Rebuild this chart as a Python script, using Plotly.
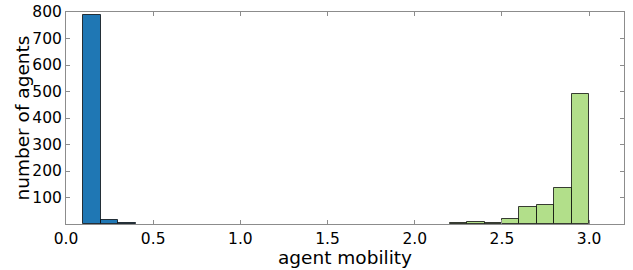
import plotly.graph_objects as go

# bin left edges and counts
blue_left = [0.1, 0.2, 0.3]
blue_counts = [787, 14, 3]
green_left = [2.2, 2.3, 2.4, 2.5, 2.6, 2.7, 2.8, 2.9]
green_counts = [4, 8, 5, 20, 63, 72, 135, 492]
bin_width = 0.1
x_ticks = [0.0, 0.5, 1.0, 1.5, 2.0, 2.5, 3.0]
y_ticks = [100, 200, 300, 400, 500, 600, 700, 800]
x_title = "agent mobility"
y_title = "number of agents"

fig = go.Figure()
fig.add_trace(go.Bar(
    x=[l + bin_width / 2 for l in blue_left], y=blue_counts, width=bin_width,
    marker=dict(color="#1f77b4", line=dict(color="rgba(0,0,0,0.75)", width=1)),
))
fig.add_trace(go.Bar(
    x=[l + bin_width / 2 for l in green_left], y=green_counts, width=bin_width,
    marker=dict(color="#b2df8a", line=dict(color="rgba(0,0,0,0.75)", width=1)),
))

font = "DejaVu Sans"
fig.update_layout(
    width=633, height=270,
    margin=dict(l=65.5, r=9, t=12, b=45.5, autoexpand=False),
    paper_bgcolor="white", plot_bgcolor="white",
    showlegend=False, bargap=0,
    font=dict(family=font, size=15.5, color="black"),
    annotations=[
        dict(text=x_title, xref="paper", yref="paper", x=0.5, y=-0.158,
             xanchor="center", yanchor="middle", showarrow=False, borderpad=0,
             font=dict(family=font, size=18.5, color="black")),
        dict(text=y_title, xref="paper", yref="paper", x=-0.078, y=0.5,
             xanchor="center", yanchor="middle", textangle=-90, showarrow=False,
             borderpad=0, font=dict(family=font, size=18.5, color="black")),
    ],
)
axis_common = dict(
    showline=True, linecolor="#8c8c8c", linewidth=1, mirror="allticks",
    ticks="inside", ticklen=4, tickcolor="#8c8c8c", showgrid=False, zeroline=False,
    tickfont=dict(family=font, size=15.5, color="black"), automargin=False,
    ticklabeloverflow="allow",
)
fig.update_xaxes(range=[0, 3.2], tickvals=x_ticks, tickformat=".1f", **axis_common)
fig.update_yaxes(range=[0, 800], tickvals=y_ticks, **axis_common)

fig.write_html("out.html", config={"displayModeBar": False},
               post_script="document.body.style.margin='0px';")
